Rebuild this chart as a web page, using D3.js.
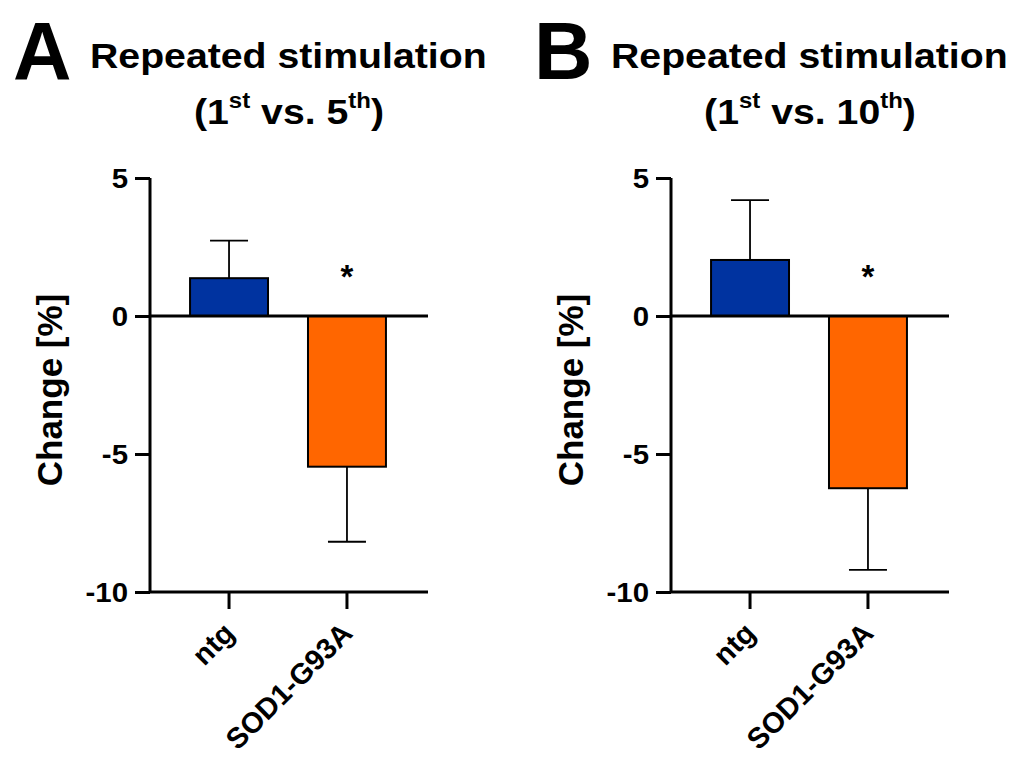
<!DOCTYPE html>
<html><head><meta charset="utf-8">
<script src="https://cdn.jsdelivr.net/npm/d3@7"></script>
<style>body{margin:0;background:#fff}svg{display:block}text{font-family:"Liberation Sans",Arial,sans-serif;font-weight:bold;fill:#000}</style>
</head><body>
<script>
const categories = ["ntg", "SOD1-G93A"];
const colors = ["#0033a0", "#ff6600"];
const yTicks = [5, 0, -5, -10];
const panelLetters = ["A", "B"];
const titleOrdinals = ["5", "10"];
const meansA = [1.37, -5.46];
const errorsA = [1.36, 2.72];
const meansB = [2.03, -6.24];
const errorsB = [2.17, 2.96];
const significant = [false, true];

const SX = 1.09; // horizontal text stretch seen in the reference
const svg = d3.select("body").append("svg").attr("width", 1024).attr("height", 774);

function panel(ox, letter, ordinal, means, errs) {
  const g = svg.append("g").attr("transform", `translate(${ox},0)`);
  const x0 = 150, x1 = 428;
  const y = d3.scaleLinear().domain([-10, 5]).range([592, 178]);
  const x = d3.scaleBand().domain(categories).range([170, 406]).paddingInner(0.339).paddingOuter(0.17);

  // titles
  g.append("text").attr("x", 13).attr("y", 79).attr("font-size", 81).text(letter);
  g.append("text").attr("transform", `translate(90,68) scale(${SX},1)`).attr("font-size", 36).text("Repeated stimulation");
  const t2 = g.append("text").attr("transform", `translate(289,124) scale(${SX},1)`).attr("font-size", 36).attr("text-anchor", "middle");
  t2.append("tspan").text("(1");
  t2.append("tspan").attr("font-size", 22).attr("dy", -16).text("st");
  t2.append("tspan").attr("dy", 16).text(" vs. " + ordinal);
  t2.append("tspan").attr("font-size", 22).attr("dy", -16).text("th");
  t2.append("tspan").attr("dy", 16).text(")");

  // bars
  categories.forEach((c, i) => {
    const v = means[i];
    g.append("rect").attr("x", x(c)).attr("width", x.bandwidth())
      .attr("y", y(Math.max(0, v))).attr("height", Math.abs(y(v) - y(0)))
      .attr("fill", colors[i]).attr("stroke", "#000").attr("stroke-width", 2);
    const cx = x(c) + x.bandwidth() / 2;
    const end = v >= 0 ? v + errs[i] : v - errs[i];
    g.append("line").attr("x1", cx).attr("x2", cx).attr("y1", y(v)).attr("y2", y(end)).attr("stroke", "#000").attr("stroke-width", 1.8);
    g.append("line").attr("x1", cx - 19).attr("x2", cx + 19).attr("y1", y(end)).attr("y2", y(end)).attr("stroke", "#000").attr("stroke-width", 1.8);
    if (significant[i]) {
      g.append("text").attr("x", cx).attr("y", 288).attr("text-anchor", "middle").attr("font-size", 33).attr("font-weight", "normal").text("*");
    }
  });

  // zero line
  g.append("line").attr("x1", x0).attr("x2", x1).attr("y1", y(0)).attr("y2", y(0)).attr("stroke", "#000").attr("stroke-width", 3);

  // y axis
  const ya = g.append("g").attr("transform", `translate(${x0},0)`)
    .call(d3.axisLeft(y).tickValues(yTicks).tickSize(15).tickPadding(7).tickFormat(d => String(d)));
  ya.select(".domain").attr("stroke-width", 3).attr("d", `M0,${y(-10)}V${y(5)}`);
  ya.selectAll(".tick line").attr("stroke-width", 3);
  ya.selectAll(".tick text").attr("font-size", 27).attr("font-family", "Liberation Sans, Arial, sans-serif").attr("font-weight", "bold")
    .attr("x", 0).attr("dy", "0.36em").attr("transform", `translate(-22,0) scale(${SX},1)`);

  // x axis
  const xa = g.append("g").attr("transform", `translate(0,${y(-10)})`)
    .call(d3.axisBottom(x).tickSize(17).tickPadding(6));
  xa.select(".domain").attr("stroke-width", 3).attr("d", `M${x0},0H${x1}`);
  xa.selectAll(".tick line").attr("stroke-width", 3);
  xa.selectAll(".tick text").attr("font-size", 29).attr("font-family", "Liberation Sans, Arial, sans-serif").attr("font-weight", "bold")
    .attr("text-anchor", "end").attr("dy", "0").attr("y", 0).attr("transform", "translate(7,43) rotate(-45)");

  // y label
  g.append("text").attr("transform", `translate(62,390) rotate(-90)`).attr("text-anchor", "middle").attr("font-size", 35).text("Change [%]");
}

panel(0, panelLetters[0], titleOrdinals[0], meansA, errorsA);
panel(521, panelLetters[1], titleOrdinals[1], meansB, errorsB);
</script>
</body></html>
